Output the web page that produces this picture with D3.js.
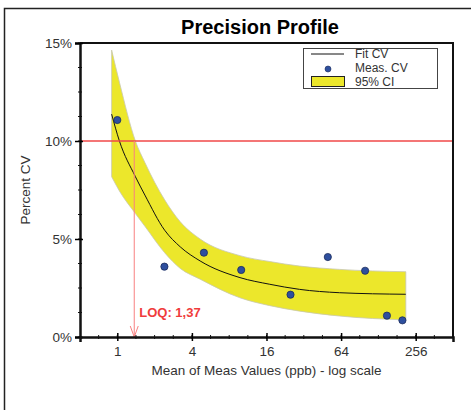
<!DOCTYPE html>
<html>
<head>
<meta charset="utf-8">
<script src="https://cdnjs.cloudflare.com/ajax/libs/d3/7.8.5/d3.min.js"></script>
<style>
  body { margin: 0; background: #fff; }
  svg { font-family: Arial, "Liberation Sans", sans-serif; }
</style>
</head>
<body>
<div id="chart"></div>
<script>
// Precision profile data
var measX  = [1, 2.4, 5, 10, 25, 50, 100, 150, 200];
var measCV = [11.07, 3.59, 4.30, 3.42, 2.16, 4.08, 3.38, 1.09, 0.85];

var fitX  = [0.9, 1.04, 1.4, 1.67, 2.41, 3.22, 4.66, 9.77, 17, 29.6, 62, 213];
var fitCV = [11.37, 10.0, 8.18, 7.24, 5.45, 4.6, 3.88, 3.03, 2.69, 2.43, 2.26, 2.18];
var ciHi  = [14.64, 13.0, 10.0, 8.9, 7.0, 5.88, 5.0, 4.15, 3.85, 3.62, 3.45, 3.33];
var ciLo  = [8.18, 7.45, 6.3, 5.65, 4.3, 3.5, 2.95, 2.0, 1.6, 1.32, 1.07, 0.87];

var xTicks = [1, 4, 16, 64, 256];
var yTicks = [0, 5, 10, 15];
var loq = 1.37, cvLimit = 10;

var width = 471, height = 410;
var margin = {top: 43, right: 18, bottom: 73, left: 80};

var svg = d3.select('#chart').append('svg')
	.attr('width', width)
	.attr('height', height);

// outer frame (only top and left show)
svg.append('path')
	.attr('d', 'M4.5,' + height + 'V8.5H' + width)
	.attr('fill', 'none')
	.attr('stroke', '#222')
	.attr('stroke-width', 1.5);

var x = d3.scaleLog().base(2)
	.domain([0.5, 512])
	.range([margin.left, width - margin.right]);

var y = d3.scaleLinear()
	.domain([0, 15])
	.range([height - margin.bottom, margin.top]);

svg.append('text')
	.attr('x', 260)
	.attr('y', 34)
	.attr('text-anchor', 'middle')
	.style('font-size', '20px')
	.style('font-weight', 'bold')
	.text('Precision Profile');

// confidence band
var band = fitX.map(function(d, i) { return {x: d, lo: ciLo[i], hi: ciHi[i]}; });
svg.append('path')
	.datum(band)
	.attr('fill', '#ece72b')
	.attr('stroke', '#c8c8b0')
	.attr('stroke-width', 0.8)
	.attr('d', d3.area()
		.x(function(d) { return x(d.x); })
		.y0(function(d) { return y(d.lo); })
		.y1(function(d) { return y(d.hi); })
		.curve(d3.curveMonotoneX));

// fit line
svg.append('path')
	.datum(fitX.map(function(d, i) { return [d, fitCV[i]]; }))
	.attr('fill', 'none')
	.attr('stroke', '#111')
	.attr('stroke-width', 1)
	.attr('d', d3.line()
		.x(function(d) { return x(d[0]); })
		.y(function(d) { return y(d[1]); })
		.curve(d3.curveMonotoneX));

// 10% limit line
svg.append('line')
	.attr('x1', x.range()[0]).attr('x2', x.range()[1])
	.attr('y1', y(cvLimit)).attr('y2', y(cvLimit))
	.attr('stroke', '#f04848')
	.attr('stroke-width', 1.5);

// LOQ arrow
var lx = x(loq);
svg.append('line')
	.attr('x1', lx).attr('x2', lx)
	.attr('y1', y(cvLimit)).attr('y2', y(0))
	.attr('stroke', '#f88080')
	.attr('stroke-width', 1);
svg.append('path')
	.attr('d', 'M' + (lx - 4) + ',' + (y(0) - 11) + 'L' + lx + ',' + y(0) + 'L' + (lx + 4) + ',' + (y(0) - 11))
	.attr('fill', 'none')
	.attr('stroke', '#f88080')
	.attr('stroke-width', 1);
svg.append('text')
	.attr('x', lx + 5)
	.attr('y', 317)
	.attr('fill', '#f03c3c')
	.style('font-size', '13px')
	.style('font-weight', 'bold')
	.text('LOQ: ' + String(loq).replace('.', ','));

// measured points
svg.append('g').selectAll('circle')
	.data(measX)
	.enter().append('circle')
	.attr('cx', function(d) { return x(d); })
	.attr('cy', function(d, i) { return y(measCV[i]); })
	.attr('r', 3.6)
	.attr('fill', '#2e4f9e')
	.attr('stroke', '#1c2c5c')
	.attr('stroke-width', 0.8);

// plot frame top & right
svg.append('path')
	.attr('d', 'M' + x.range()[0] + ',' + y(15) + 'H' + x.range()[1] + 'V' + y(0))
	.attr('fill', 'none')
	.attr('stroke', '#111')
	.attr('stroke-width', 2);

// y axis
var yMinor = d3.range(0, 15.01, 1.25);
svg.append('g').selectAll('line')
	.data(yMinor)
	.enter().append('line')
	.attr('x1', x.range()[0] - 2).attr('x2', x.range()[0] + 2)
	.attr('y1', function(d) { return y(d); })
	.attr('y2', function(d) { return y(d); })
	.attr('stroke', '#111');
var yAxis = svg.append('g')
	.attr('transform', 'translate(' + x.range()[0] + ',0)')
	.call(d3.axisLeft(y).tickValues(yTicks).tickSize(5).tickFormat(function(d) { return d + '%'; }));
yAxis.select('.domain').attr('stroke-width', 2.5).attr('stroke', '#111');
yAxis.selectAll('.tick line').attr('x2', 3).attr('x1', -5).attr('stroke-width', 1.5);
yAxis.selectAll('.tick text').attr('x', -8).style('font-size', '13.5px').style('font-family', 'Arial, "Liberation Sans", sans-serif').attr('fill', '#333');

// x axis
var xMinor = d3.range(-2, 18).map(function(k) { return Math.pow(2, k / 2); })
	.filter(function(d) { return d > 0.5 && d < 512; });
svg.append('g').selectAll('line')
	.data(xMinor)
	.enter().append('line')
	.attr('x1', function(d) { return x(d); })
	.attr('x2', function(d) { return x(d); })
	.attr('y1', y(0) - 2).attr('y2', y(0) + 2)
	.attr('stroke', '#111');
var xAxis = svg.append('g')
	.attr('transform', 'translate(0,' + y(0) + ')')
	.call(d3.axisBottom(x).tickValues(xTicks).tickSize(5).tickFormat(d3.format('d')));
xAxis.select('.domain').attr('stroke-width', 2.5).attr('stroke', '#111');
xAxis.selectAll('.tick line').attr('y1', -4).attr('y2', 4).attr('stroke-width', 1.5);
xAxis.selectAll('.tick text').attr('y', 9).style('font-size', '13.5px').style('font-family', 'Arial, "Liberation Sans", sans-serif').attr('fill', '#333');

// axis titles
svg.append('text')
	.attr('x', (x.range()[0] + x.range()[1]) / 2)
	.attr('y', 375)
	.attr('text-anchor', 'middle')
	.attr('fill', '#333')
	.style('font-size', '13.5px')
	.text('Mean of Meas Values (ppb) - log scale');
svg.append('text')
	.attr('transform', 'translate(30,' + ((y(0) + y(15)) / 2) + ') rotate(-90)')
	.attr('text-anchor', 'middle')
	.attr('fill', '#333')
	.style('font-size', '13.5px')
	.text('Percent CV');

// legend
var lg = svg.append('g').attr('transform', 'translate(303,48)');
lg.append('rect')
	.attr('x', 0.5).attr('y', 0.5)
	.attr('width', 134).attr('height', 40)
	.attr('fill', '#fff')
	.attr('stroke', '#444')
	.attr('stroke-width', 1);
lg.append('line')
	.attr('x1', 8).attr('x2', 41).attr('y1', 6).attr('y2', 6)
	.attr('stroke', '#111');
lg.append('circle')
	.attr('cx', 25).attr('cy', 21).attr('r', 3)
	.attr('fill', '#2e4f9e')
	.attr('stroke', '#1c2c5c')
	.attr('stroke-width', 0.6);
lg.append('rect')
	.attr('x', 8.5).attr('y', 28.5).attr('width', 33).attr('height', 10)
	.attr('fill', '#ece72b')
	.attr('stroke', '#222');
var lt = ['Fit CV', 'Meas. CV', '95% CI'];
lg.selectAll('text.lt')
	.data(lt)
	.enter().append('text')
	.attr('class', 'lt')
	.attr('x', 52)
	.attr('y', function(d, i) { return 10 + i * 14; })
	.attr('fill', '#333')
	.style('font-size', '12px')
	.text(function(d) { return d; });
</script>
</body>
</html>
